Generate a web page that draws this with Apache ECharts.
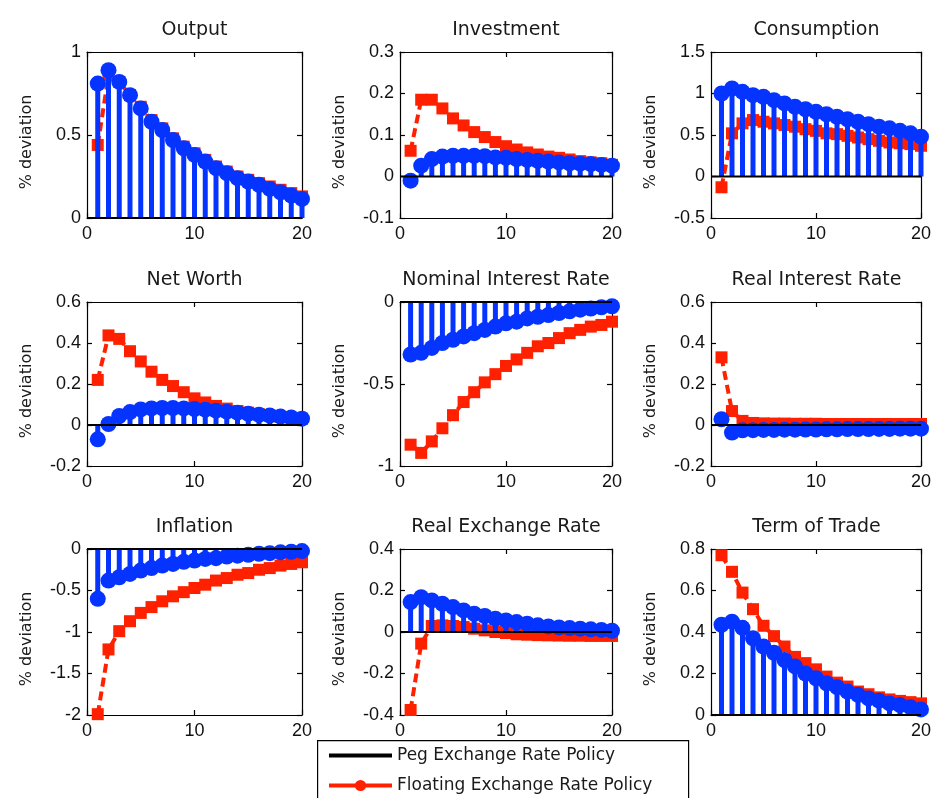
<!DOCTYPE html>
<html>
<head>
<meta charset="utf-8">
<script src="https://cdn.jsdelivr.net/npm/echarts@6/dist/echarts.min.js"></script>
<style>
html,body{margin:0;padding:0;background:#fff;}
#chart{width:934px;height:798px;}
</style>
</head>
<body>
<div id="chart"></div>
<script>
// ---------- data ----------
const periods = [1,2,3,4,5,6,7,8,9,10,11,12,13,14,15,16,17,18,19,20];
const xTicks = [0, 10, 20];
const panelTitles = ['Output','Investment','Consumption','Net Worth','Nominal Interest Rate','Real Interest Rate','Inflation','Real Exchange Rate','Term of Trade'];
const yLabel = '% deviation';
const yMin  = [0, -0.1, -0.5, -0.2, -1, -0.2, -2, -0.4, 0];
const yMax  = [1, 0.3, 1.5, 0.6, 0, 0.6, 0, 0.4, 0.8];
const yStep = [0.5, 0.1, 0.5, 0.2, 0.5, 0.2, 0.5, 0.2, 0.2];

const pegName = 'Peg Exchange Rate Policy';
const floatName = 'Floating Exchange Rate Policy';
const stemName = 'Stem response';

// blue stems
const outputStem      = [0.81,0.89,0.82,0.74,0.66,0.58,0.53,0.47,0.42,0.38,0.34,0.30,0.27,0.24,0.22,0.20,0.175,0.155,0.135,0.115];
const investmentStem  = [-0.01,0.026,0.042,0.048,0.05,0.05,0.05,0.049,0.046,0.045,0.042,0.04,0.038,0.036,0.034,0.032,0.031,0.03,0.028,0.026];
const consumptionStem = [1.0,1.06,1.02,0.98,0.96,0.92,0.88,0.84,0.81,0.78,0.75,0.72,0.69,0.66,0.63,0.60,0.58,0.55,0.52,0.48];
const netWorthStem    = [-0.07,0.005,0.044,0.063,0.076,0.081,0.083,0.083,0.081,0.078,0.075,0.07,0.065,0.06,0.055,0.05,0.046,0.041,0.036,0.031];
const nominalStem     = [-0.32,-0.31,-0.28,-0.25,-0.23,-0.21,-0.19,-0.17,-0.15,-0.13,-0.12,-0.10,-0.09,-0.08,-0.067,-0.057,-0.047,-0.04,-0.032,-0.026];
const realRateStem    = [0.028,-0.037,-0.026,-0.025,-0.024,-0.024,-0.023,-0.023,-0.022,-0.022,-0.021,-0.021,-0.02,-0.02,-0.02,-0.019,-0.019,-0.018,-0.018,-0.018];
const inflationStem   = [-0.60,-0.38,-0.34,-0.30,-0.26,-0.23,-0.20,-0.18,-0.155,-0.14,-0.12,-0.11,-0.09,-0.08,-0.07,-0.057,-0.05,-0.04,-0.033,-0.025];
const rerStem         = [0.144,0.168,0.152,0.136,0.12,0.104,0.088,0.077,0.064,0.056,0.048,0.04,0.032,0.027,0.022,0.019,0.016,0.013,0.01,0.006];
const totStem         = [0.435,0.45,0.42,0.37,0.33,0.30,0.265,0.234,0.20,0.177,0.153,0.134,0.113,0.097,0.08,0.069,0.056,0.048,0.037,0.027];

// red floating regime
const outputFloat      = [0.44,0.86,0.82,0.74,0.67,0.59,0.54,0.48,0.43,0.39,0.35,0.31,0.28,0.25,0.23,0.21,0.19,0.17,0.15,0.13];
const investmentFloat  = [0.062,0.185,0.185,0.164,0.14,0.123,0.107,0.095,0.083,0.073,0.065,0.058,0.053,0.048,0.045,0.041,0.037,0.034,0.032,0.028];
const consumptionFloat = [-0.13,0.52,0.64,0.68,0.66,0.64,0.62,0.60,0.57,0.55,0.52,0.51,0.49,0.47,0.45,0.43,0.41,0.40,0.39,0.37];
const netWorthFloat    = [0.22,0.437,0.42,0.36,0.31,0.26,0.22,0.19,0.16,0.13,0.11,0.093,0.08,0.068,0.06,0.052,0.047,0.04,0.036,0.031];
const nominalFloat     = [-0.87,-0.92,-0.85,-0.77,-0.69,-0.61,-0.55,-0.49,-0.44,-0.39,-0.35,-0.31,-0.27,-0.25,-0.22,-0.19,-0.17,-0.15,-0.14,-0.12];
const realRateFloat    = [0.33,0.068,0.02,0.01,0.008,0.007,0.007,0.006,0.006,0.006,0.005,0.005,0.005,0.005,0.005,0.005,0.005,0.005,0.005,0.005];
const inflationFloat   = [-1.99,-1.21,-0.99,-0.87,-0.77,-0.70,-0.63,-0.57,-0.52,-0.47,-0.43,-0.38,-0.35,-0.31,-0.29,-0.25,-0.23,-0.20,-0.18,-0.16];
const rerFloat         = [-0.376,-0.056,0.029,0.032,0.029,0.024,0.016,0.008,0.0,-0.005,-0.011,-0.013,-0.015,-0.016,-0.017,-0.018,-0.018,-0.019,-0.019,-0.019];
const totFloat         = [0.77,0.69,0.59,0.51,0.43,0.38,0.33,0.28,0.25,0.22,0.185,0.156,0.137,0.113,0.10,0.085,0.075,0.068,0.062,0.056];

const stemSets  = [outputStem, investmentStem, consumptionStem, netWorthStem, nominalStem, realRateStem, inflationStem, rerStem, totStem];
const floatSets = [outputFloat, investmentFloat, consumptionFloat, netWorthFloat, nominalFloat, realRateFloat, inflationFloat, rerFloat, totFloat];
const baseline = [0, 0];

// ---------- layout / style ----------
const colLeft = [87, 400, 711];
const colWidth = [215, 212, 211];
const rowTop = [52, 302, 549];
const rowHeight = [166, 164, 166];
const BLUE = '#0533ff';
const RED = '#ff2000';
const tickFont = {fontFamily: 'Liberation Sans, Arial, sans-serif', fontSize: 18, color: '#111'};

const grids = [], xAxes = [], yAxes = [], titles = [], series = [];

for (let i = 0; i < 9; i++) {
  const r = Math.floor(i / 3), c = i % 3;
  grids.push({left: colLeft[c], top: rowTop[r], width: colWidth[c], height: rowHeight[r], containLabel: false});
  titles.push({
    text: panelTitles[i],
    left: colLeft[c] + colWidth[c] / 2,
    top: rowTop[r] - 31,
    textAlign: 'center',
    padding: 0,
    textStyle: {fontFamily: 'DejaVu Sans, sans-serif', fontSize: 19, fontWeight: 'normal', color: '#1a1a1a'}
  });
  const axLine = {show: true, onZero: false, lineStyle: {color: '#000', width: 1.2}};
  const axTick = {show: true, inside: true, length: 5, lineStyle: {color: '#000', width: 1.2}};
  xAxes.push({
    type: 'value', gridIndex: i, min: xTicks[0], max: xTicks[2], interval: xTicks[1] - xTicks[0],
    position: 'bottom', axisLine: axLine, axisTick: axTick, splitLine: {show: false},
    axisLabel: Object.assign({margin: 7}, tickFont)
  });
  xAxes.push({
    type: 'value', gridIndex: i, min: xTicks[0], max: xTicks[2], interval: xTicks[1] - xTicks[0],
    position: 'top', axisLine: axLine, axisTick: axTick, splitLine: {show: false},
    axisLabel: {show: false}
  });
  yAxes.push({
    type: 'value', gridIndex: i, min: yMin[i], max: yMax[i], interval: yStep[i],
    position: 'left', axisLine: axLine, axisTick: axTick, splitLine: {show: false},
    axisLabel: Object.assign({margin: 6}, tickFont),
    name: yLabel, nameLocation: 'middle', nameRotate: 90, nameGap: 52,
    nameTextStyle: {fontFamily: 'DejaVu Sans, sans-serif', fontSize: 16, color: '#1a1a1a', padding: [0, 14, 0, 0]}
  });
  yAxes.push({
    type: 'value', gridIndex: i, min: yMin[i], max: yMax[i], interval: yStep[i],
    position: 'right', axisLine: axLine, axisTick: axTick, splitLine: {show: false},
    axisLabel: {show: false}
  });

  const xi = 2 * i, yi = 2 * i;
  const floatData = periods.map((p, k) => [p, floatSets[i][k]]);
  const stemData = periods.map((p, k) => [p, stemSets[i][k]]);

  if (i === 0) {
    // legend-only icon carrier for the floating regime (solid line + round marker)
    series.push({
      name: floatName, type: 'line', xAxisIndex: 0, yAxisIndex: 0, data: [],
      symbol: 'circle', color: RED, lineStyle: {color: RED, width: 4, type: 'solid'}
    });
  }
  series.push({
    name: floatName, type: 'line', xAxisIndex: xi, yAxisIndex: yi, data: floatData,
    symbol: 'rect', symbolSize: 12, color: RED, z: 2,
    lineStyle: {color: RED, width: 4, type: [9, 5]}, itemStyle: {color: RED},
    animation: false, silent: true
  });
  series.push({
    name: stemName, type: 'bar', xAxisIndex: xi, yAxisIndex: yi, data: stemData,
    barWidth: 5, itemStyle: {color: BLUE}, z: 3, animation: false, silent: true
  });
  series.push({
    name: stemName, type: 'scatter', xAxisIndex: xi, yAxisIndex: yi, data: stemData,
    symbol: 'circle', symbolSize: 16, itemStyle: {color: BLUE, opacity: 1}, z: 4,
    clip: false, animation: false, silent: true
  });
  series.push({
    name: pegName, type: 'line', xAxisIndex: xi, yAxisIndex: yi,
    data: [[xTicks[0], baseline[0]], [xTicks[2], baseline[1]]],
    symbol: 'none', color: '#000', lineStyle: {color: '#000', width: 2}, z: 5,
    animation: false, silent: true
  });
}

const chart = echarts.init(document.getElementById('chart'), null, {renderer: 'canvas'});
chart.setOption({
  backgroundColor: '#fff',
  animation: false,
  title: titles,
  grid: grids,
  xAxis: xAxes,
  yAxis: yAxes,
  legend: {
    orient: 'vertical', left: 327, top: 747, padding: 0,
    itemWidth: 63, itemHeight: 14, itemGap: 13,
    selectedMode: false,
    textStyle: {fontFamily: 'DejaVu Sans, sans-serif', fontSize: 17, color: '#1a1a1a'},
    data: [
      {name: pegName, itemStyle: {opacity: 0}, lineStyle: {width: 4, color: '#000'}},
      {name: floatName, lineStyle: {width: 4, color: RED}}
    ]
  },
  graphic: [{
    type: 'rect', left: 317, top: 740, z: -1,
    shape: {width: 371, height: 80},
    style: {fill: '#fff', stroke: '#000', lineWidth: 1.2}
  }],
  series: series
});
</script>
</body>
</html>
